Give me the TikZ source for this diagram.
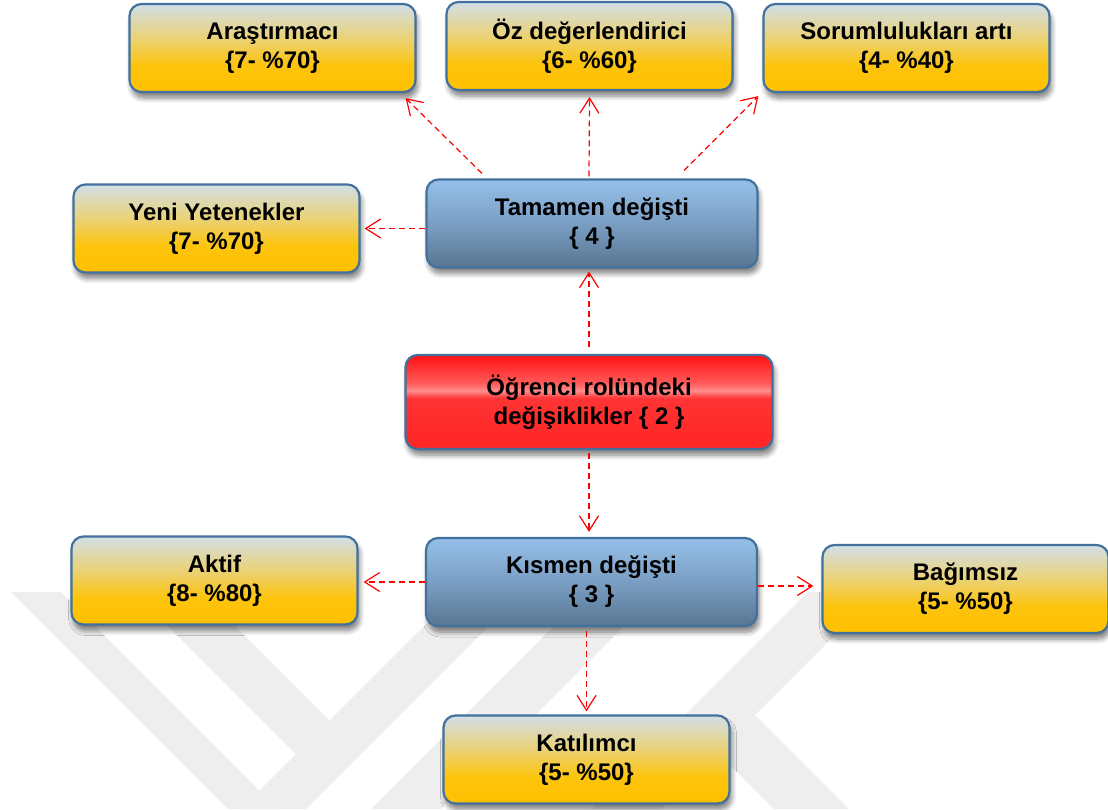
\documentclass[tikz,border=0pt]{standalone}
\usepackage{fontspec}
\setmainfont{Liberation Sans}
\usetikzlibrary{arrows.meta,calc,shadows.blur}

\definecolor{boxedge}{HTML}{41719C}
\definecolor{wmgray}{HTML}{EEEEEE}
\definecolor{linkred}{HTML}{FF0000}
\definecolor{goldA}{HTML}{FFC000}
\definecolor{goldB}{HTML}{FDC40C}
\definecolor{goldC}{HTML}{EAD278}
\definecolor{goldD}{HTML}{D2DFE8}
\definecolor{blueA}{HTML}{587691}
\definecolor{blueB}{HTML}{7A9EC3}
\definecolor{blueC}{HTML}{96C0E9}
\definecolor{redA}{HTML}{FF2424}
\definecolor{redB}{HTML}{FF3434}
\definecolor{redC}{HTML}{FF8C8C}
\definecolor{redD}{HTML}{FF5A5A}
\definecolor{redE}{HTML}{FF1212}

% gold boxes: pale blue-grey top fading into amber
\pgfdeclareverticalshading{goldfill}{100bp}{%
  color(0bp)=(goldA); color(25bp)=(goldA); color(40bp)=(goldB);
  color(56bp)=(goldC); color(75bp)=(goldD); color(100bp)=(goldD)}
% blue boxes: light sky blue to slate
\pgfdeclareverticalshading{bluefill}{100bp}{%
  color(0bp)=(blueA); color(25bp)=(blueA); color(50bp)=(blueB);
  color(75bp)=(blueC); color(100bp)=(blueC)}
% red box: glossy red with a light band
\pgfdeclareverticalshading{redfill}{100bp}{%
  color(0bp)=(redA); color(25bp)=(redA); color(52bp)=(redB);
  color(56bp)=(redC); color(60bp)=(redD); color(75bp)=(redE);
  color(100bp)=(redE)}

\tikzset{
  card/.style={draw=boxedge, line width=2.2pt, rounded corners=12pt,
    align=center, inner sep=0pt, font=\bfseries\fontsize{24}{29}\selectfont,
    blur shadow={shadow xshift=2pt, shadow yshift=-6pt, shadow blur radius=5pt,
      shadow blur steps=6, shadow opacity=50}},
  goldcard/.style={card, shading=goldfill, minimum width=286pt, minimum height=88pt},
  bluecard/.style={card, shading=bluefill, minimum width=331pt, minimum height=88pt},
  redcard/.style={card, shading=redfill, minimum width=367pt, minimum height=94pt},
  link/.style={draw=linkred, line width=1.2pt, dash pattern=on 6pt off 4pt,
    -{Straight Barb[length=15pt,width=19pt,line width=1.2pt]}},
  wm/.style={fill=wmgray}
}

\begin{document}
\begin{tikzpicture}[x=1pt,y=-1pt]
\useasboundingbox (0,0) rectangle (1108,809);
\begin{scope}
\clip (0,0) rectangle (1108,809);
% faint emblem in the background: slanted stripes
\fill[wm] (11,592) -- (61,592) -- (278,809) -- (228,809) -- cycle;
\fill[wm] (134,592) -- (201,592) -- (336,727) -- (301,759) -- cycle;
\fill[wm] (241,809) -- (458,592) -- (523,592) -- (306,809) -- cycle;
\fill[wm] (371,809) -- (588,592) -- (658,592) -- (441,809) -- cycle;
\fill[wm] (591,809) -- (808,592) -- (878,592) -- (661,809) -- cycle;
\fill[wm] (717,752) -- (755,715) -- (849,809) -- (774,809) -- cycle;
\end{scope}

% boxes
\node[goldcard] (ara) at (272.5,48) {Araştırmacı\\\{7- \%70\}};
\node[goldcard] (oz)  at (589.5,46) {Öz değerlendirici\\\{6- \%60\}};
\node[goldcard] (sor) at (906.5,48) {Sorumlulukları artı\\\{4- \%40\}};
\node[goldcard] (yeni) at (216.5,228.5) {Yeni Yetenekler\\\{7- \%70\}};
\node[bluecard] (tam) at (592,223.5) {Tamamen değişti\\\{ 4 \}};
\node[redcard]  (ogr) at (589,402) {Öğrenci rolündeki\\değişiklikler \{ 2 \}};
\node[bluecard] (kis) at (591.5,582) {Kısmen değişti\\\{ 3 \}};
\node[goldcard] (akt) at (214.5,580.5) {Aktif\\\{8- \%80\}};
\node[goldcard] (bag) at (965.5,589) {Bağımsız\\\{5- \%50\}};
\node[goldcard] (kat) at (586.5,759.5) {Katılımcı\\\{5- \%50\}};

% connectors
\draw[link] ($(tam.north)+(-110,-5)$) -- ($(ara.south east)+(-11,5)$);
\draw[link] ($(tam.north)+(-3,-2)$) -- ($(oz.south)+(0,6)$);
\draw[link] ($(tam.north)+(92,-8)$) -- ($(sor.south west)+(-4,3)$);
\draw[link] (tam.west |- yeni.east) -- ($(yeni.east)+(4,0)$);
\draw[link] ($(ogr.north)+(0,-7)$) -- ($(ogr.north |- tam.south)+(0,3)$);
\draw[link] ($(ogr.south)+(0,3)$) -- ($(ogr.south |- kis.north)+(0,-5)$);
\draw[link] (kis.west) -- ($(kis.west -| akt.east)+(5,0)$);
\draw[link] ($(kis.east)+(0,4)$) -- ($(kis.east -| bag.west)+(-8,4)$);
\draw[link] ($(kis.south -| kat.north)+(0,4)$) -- ($(kat.north)+(0,-3)$);
\end{tikzpicture}
\end{document}
